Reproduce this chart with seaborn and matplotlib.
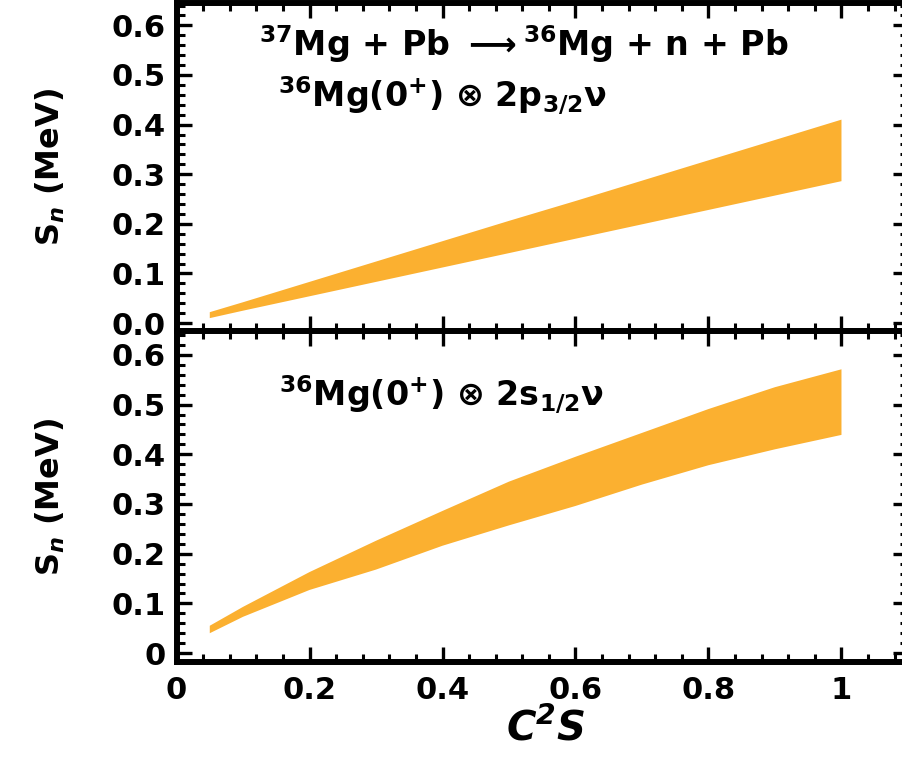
import matplotlib
matplotlib.use("Agg")
import matplotlib.pyplot as plt
from matplotlib.ticker import FixedLocator, MultipleLocator
import seaborn as sns
import pandas as pd

# Spectroscopic factor grid and S_n bands (MeV)
c2s = [0.05, 0.1, 0.2, 0.3, 0.4, 0.5, 0.6, 0.7, 0.8, 0.9, 1.0]
p32_upper = [0.022, 0.042, 0.083, 0.124, 0.165, 0.206, 0.246, 0.287, 0.328, 0.369, 0.410]
p32_lower = [0.010, 0.025, 0.054, 0.083, 0.112, 0.141, 0.170, 0.199, 0.228, 0.257, 0.286]
s12_upper = [0.055, 0.093, 0.163, 0.226, 0.286, 0.345, 0.395, 0.443, 0.491, 0.535, 0.571]
s12_lower = [0.040, 0.073, 0.127, 0.168, 0.216, 0.257, 0.296, 0.339, 0.378, 0.410, 0.439]

xticks = [0, 0.2, 0.4, 0.6, 0.8, 1.0]
xticklabels = ["0", "0.2", "0.4", "0.6", "0.8", "1"]
yticks = [0.0, 0.1, 0.2, 0.3, 0.4, 0.5, 0.6]
yticklabels_top = ["0.0", "0.1", "0.2", "0.3", "0.4", "0.5", "0.6"]
yticklabels_bottom = ["0", "0.1", "0.2", "0.3", "0.4", "0.5", "0.6"]

title_reaction = r"$^{37}$Mg + Pb $\longrightarrow$$^{36}$Mg + n + Pb"
title_p32 = r"$^{36}$Mg(0$^{+}$) $\mathrm{\otimes}$ 2p$_{3/2}$$\mathrm{\nu}$"
title_s12 = r"$^{36}$Mg(0$^{+}$) $\mathrm{\otimes}$ 2s$_{1/2}$$\mathrm{\nu}$"
ylabel = r"S$_{\mathit{n}}$ (MeV)"
xlabel = r"$\mathbfit{C^{2}S}$"

band_color = "#FBB030"
ink = "black"

sns.set_style("ticks")
plt.rcParams["font.family"] = ["DejaVu Sans"]
plt.rcParams["font.weight"] = "bold"
plt.rcParams["mathtext.fontset"] = "dejavusans"
plt.rcParams["mathtext.default"] = "bf"
plt.rcParams["text.color"] = ink
plt.rcParams["axes.labelcolor"] = ink
plt.rcParams["xtick.color"] = ink
plt.rcParams["ytick.color"] = ink
plt.rcParams["xtick.labelcolor"] = ink
plt.rcParams["ytick.labelcolor"] = ink

fig = plt.figure(figsize=(9.03, 7.58), dpi=100)
ax_top = fig.add_axes([0.1955, 0.5633, 0.810, 0.4327])
ax_bot = fig.add_axes([0.1955, 0.1266, 0.810, 0.4367])


def band_frame(upper, lower):
    return pd.DataFrame({
        "c2s": list(c2s) + list(c2s),
        "sn": list(upper) + list(lower),
    })


def draw_band(ax, upper, lower):
    sns.lineplot(data=band_frame(upper, lower), x="c2s", y="sn",
                 estimator="mean", errorbar=lambda v: (v.min(), v.max()),
                 color=band_color, linewidth=0, ax=ax,
                 err_kws={"alpha": 1.0, "linewidth": 0, "edgecolor": "none"})


def style_axes(ax, ylim, ylabels, show_x):
    ax.set_xlim(0, 1.1)
    ax.set_ylim(*ylim)
    ax.xaxis.set_major_locator(FixedLocator(xticks))
    ax.xaxis.set_minor_locator(MultipleLocator(0.04))
    ax.yaxis.set_major_locator(FixedLocator(yticks))
    ax.yaxis.set_minor_locator(MultipleLocator(0.02))
    ax.set_yticklabels(ylabels)
    if show_x:
        ax.set_xticklabels(xticklabels)
    else:
        ax.set_xticklabels([])
    for s in ax.spines.values():
        s.set_linewidth(4.3)
        s.set_visible(True)
        s.set_color(ink)
    ax.tick_params(which="both", direction="in", top=True, right=True,
                   color=ink)
    ax.tick_params(which="major", length=11, width=2.4)
    ax.tick_params(which="minor", length=5.5, width=2.2)
    ax.tick_params(axis="y", which="major", labelsize=22, pad=8)
    ax.tick_params(axis="x", which="major", labelsize=22, pad=10,
                   labelbottom=show_x)
    for lab in ax.get_xticklabels() + ax.get_yticklabels():
        lab.set_fontweight("bold")
    ax.set_ylabel(ylabel, fontsize=23, fontweight="bold")
    ax.yaxis.set_label_coords(-0.15, 0.5)
    ax.set_xlabel("")


draw_band(ax_top, p32_upper, p32_lower)
draw_band(ax_bot, s12_upper, s12_lower)

style_axes(ax_top, (-0.016, 0.645), yticklabels_top, False)
style_axes(ax_bot, (-0.018, 0.648), yticklabels_bottom, True)

ax_bot.set_xlabel(xlabel, fontsize=29)
ax_bot.xaxis.set_label_coords(0.505, -0.14)

ax_top.text(0.523, 0.539, title_reaction, fontsize=24, fontweight="bold",
            ha="center", va="baseline")
ax_top.text(0.40, 0.435, title_p32, fontsize=24, fontweight="bold",
            ha="center", va="baseline")
ax_bot.text(0.398, 0.496, title_s12, fontsize=24, fontweight="bold",
            ha="center", va="baseline")

fig.savefig("out.png", dpi=100)
